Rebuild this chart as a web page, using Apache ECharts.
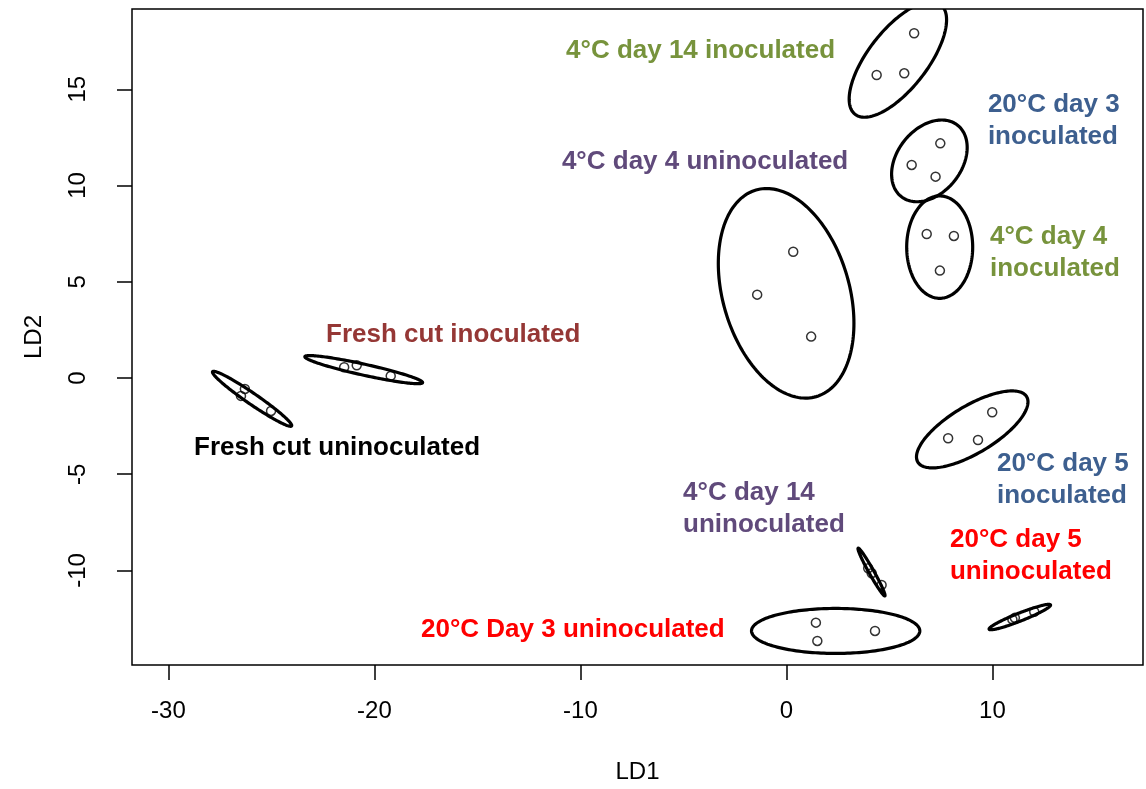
<!DOCTYPE html>
<html>
<head>
<meta charset="utf-8">
<script src="https://cdn.jsdelivr.net/npm/echarts@6/dist/echarts.min.js"></script>
<style>
html,body{margin:0;padding:0;background:#fff;}
#chart{width:1146px;height:789px;}
</style>
</head>
<body>
<div id="chart"></div>
<script>
// ---- data ----
const groups = ['Fresh cut uninoculated', 'Fresh cut inoculated', '4°C day 4 uninoculated',
  '4°C day 14 inoculated', '20°C day 3 inoculated', '4°C day 4 inoculated',
  '20°C day 5 inoculated', '4°C day 14 uninoculated', '20°C Day 3 uninoculated',
  '20°C day 5 uninoculated'];
const ld1 = [
  [-26.29, -26.48, -25.02],
  [-21.47, -20.86, -19.21],
  [0.33, -1.42, 1.20],
  [6.20, 4.38, 5.72],
  [7.47, 6.08, 7.24],
  [6.81, 8.13, 7.45],
  [9.99, 7.85, 9.30],
  [3.97, 4.14, 4.62],
  [1.43, 1.50, 4.30],
  [10.97, 11.09, 12.03]
];
const ld2 = [
  [-0.57, -0.93, -1.71],
  [0.56, 0.66, 0.11],
  [6.56, 4.33, 2.15],
  [17.91, 15.74, 15.83],
  [12.19, 11.07, 10.46],
  [7.48, 7.38, 5.58],
  [-1.78, -3.13, -3.22],
  [-9.88, -10.14, -10.75],
  [-12.71, -13.66, -13.14],
  [-12.54, -12.46, -12.14]
];
// ellipse per group: centre and two conjugate semi-axis vectors, in LD units
const ellipseCenter = [
  [-25.94, -1.08], [-20.52, 0.434], [-0.015, 4.40], [5.41, 16.55], [6.94, 11.28],
  [7.44, 6.80], [9.02, -2.67], [4.13, -10.08], [2.39, -13.14], [11.33, -12.42]
];
const ellipseAxisA = [
  [1.917, -1.410], [2.857, -0.675], [1.461, -5.366], [2.077, 2.852], [1.367, 1.854],
  [0, 2.66], [2.641, 1.700], [0.648, -1.239], [4.085, 0], [1.490, 0.631]
];
const ellipseAxisB = [
  [-0.151, -0.235], [-0.0576, -0.279], [-2.950, -0.920], [1.130, -0.942], [1.224, -1.034],
  [1.602, 0], [0.592, -1.053], [-0.106, -0.063], [0, -1.169], [0.0715, -0.193]
];
// group labels: text and anchor (left edge, vertical middle) in LD units
const labelText = ['Fresh cut uninoculated', 'Fresh cut inoculated', '4°C day 4 uninoculated',
  '4°C day 14 inoculated', '20°C day 3\ninoculated', '4°C day 4\ninoculated',
  '20°C day 5\ninoculated', '4°C day 14\nuninoculated', '20°C Day 3 uninoculated',
  '20°C day 5\nuninoculated'];
const labelAt = [
  [-28.76, -3.63], [-22.35, 2.24], [-10.90, 11.22], [-10.70, 16.98], [9.78, 13.35],
  [9.88, 6.52], [10.22, -5.27], [-5.02, -6.78], [-17.74, -13.09], [7.94, -9.24]
];
const xTicks = [-30, -20, -10, 0, 10];
const yTicks = [-10, -5, 0, 5, 10, 15];
const xRange = [-31.77, 17.31];
const yRange = [-14.91, 19.17];

// ---- styles ----
const labelColors = ['#000000', '#953735', '#604A7B', '#77933C', '#3D5F8F',
  '#77933C', '#3D5F8F', '#604A7B', '#FF0000', '#FF0000'];
const FONT = '"Liberation Sans", Arial, Helvetica, sans-serif';

const pointData = [];
ld1.forEach((xs, g) => xs.forEach((x, k) => pointData.push([x, ld2[g][k], g])));

const chart = echarts.init(document.getElementById('chart'), null, {renderer: 'canvas'});
chart.setOption({
  animation: false,
  backgroundColor: '#fff',
  grid: {left: 132, right: 3, top: 9, bottom: 124, show: true, borderColor: '#000', borderWidth: 1.5, backgroundColor: 'transparent'},
  xAxis: {
    type: 'value', min: xRange[0], max: xRange[1], position: 'bottom',
    name: 'LD1', nameLocation: 'middle', nameGap: 95,
    nameTextStyle: {fontFamily: FONT, fontSize: 24, color: '#000'},
    axisLine: {show: false, onZero: false},
    splitLine: {show: false},
    axisTick: {show: true, inside: false, length: 15, lineStyle: {color: '#000', width: 1.5}, customValues: xTicks},
    axisLabel: {fontFamily: FONT, fontSize: 24, color: '#000', margin: 34, customValues: xTicks, formatter: v => String(v)}
  },
  yAxis: {
    type: 'value', min: yRange[0], max: yRange[1], position: 'left',
    name: 'LD2', nameLocation: 'middle', nameGap: 86, nameRotate: 90,
    nameTextStyle: {fontFamily: FONT, fontSize: 24, color: '#000'},
    axisLine: {show: false, onZero: false},
    splitLine: {show: false},
    axisTick: {show: true, inside: false, length: 15, lineStyle: {color: '#000', width: 1.5}, customValues: yTicks},
    axisLabel: {fontFamily: FONT, fontSize: 24, color: '#000', margin: 42, rotate: 90, customValues: yTicks, formatter: v => String(v)}
  },
  series: [
    {
      type: 'custom',
      clip: true,
      data: ellipseCenter.map((c, i) => [c[0], c[1], i]),
      encode: {x: 0, y: 1},
      renderItem: function (params, api) {
        const i = params.dataIndex;
        const c = ellipseCenter[i], a = ellipseAxisA[i], b = ellipseAxisB[i];
        const pts = [];
        for (let k = 0; k <= 180; k++) {
          const t = 2 * Math.PI * k / 180;
          pts.push(api.coord([c[0] + a[0] * Math.cos(t) + b[0] * Math.sin(t),
                              c[1] + a[1] * Math.cos(t) + b[1] * Math.sin(t)]));
        }
        return {type: 'polygon', shape: {points: pts}, style: {fill: 'none', stroke: '#000', lineWidth: 3.2}};
      },
      z: 2
    },
    {
      type: 'scatter',
      data: pointData,
      symbol: 'circle',
      symbolSize: 9,
      itemStyle: {color: 'rgba(0,0,0,0)', borderColor: '#000', borderWidth: 1.5},
      z: 3
    },
    {
      type: 'custom',
      data: labelAt.map((p, i) => [p[0], p[1], i]),
      encode: {x: 0, y: 1},
      renderItem: function (params, api) {
        const i = params.dataIndex;
        const p = api.coord([labelAt[i][0], labelAt[i][1]]);
        return {
          type: 'text', x: p[0], y: p[1],
          style: {text: labelText[i], fill: labelColors[i], font: 'bold 26px ' + FONT,
                  align: 'left', verticalAlign: 'middle', lineHeight: 32}
        };
      },
      z: 4
    }
  ]
});
</script>
</body>
</html>
